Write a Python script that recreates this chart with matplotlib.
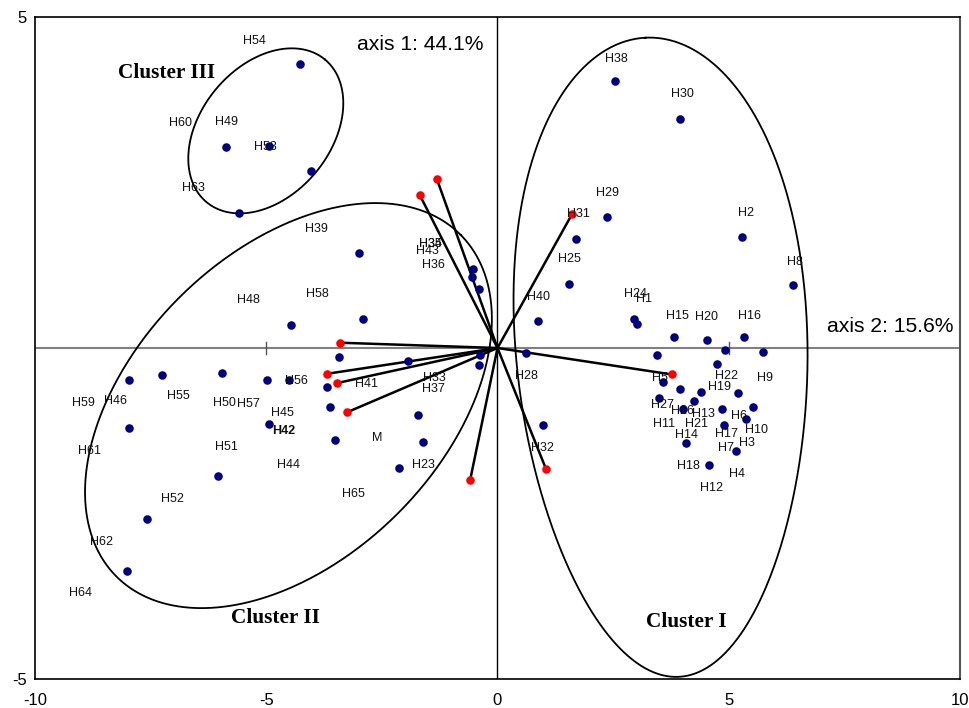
import numpy as np
import matplotlib
matplotlib.use("Agg")
import matplotlib.pyplot as plt

plt.rcParams['font.family'] = ['Liberation Sans', 'DejaVu Sans']
plt.rcParams['axes.unicode_minus'] = False

# ---- blue observation points (axis1, axis2) ----
blue_x = [-4.27, -5.87, -4.94, -4.03, -5.59,
          -2.99, -4.46, -2.91, -3.43, -7.97, -7.25, -5.96, -4.98, -4.51, -3.69, -1.93,
          -3.62, -4.94, -7.97, -3.51, -1.72, -1.61, -2.13, -6.04, -7.58, -8.01,
          -0.38, -0.40, -0.53, -0.55, -0.40, 0.62, 0.98,
          2.54, 3.95, 2.37, 1.70, 5.29, 6.39, 1.55, 0.88, 2.95, 3.02, 3.82, 4.53, 5.33,
          3.45, 4.92, 5.74, 4.75, 3.58, 3.95, 4.40, 5.20, 3.49, 4.25, 4.01, 4.85, 5.52,
          5.37, 4.90, 4.08, 5.16, 4.57]
blue_y = [4.29, 3.04, 3.05, 2.67, 2.04,
          1.44, 0.35, 0.44, -0.14, -0.48, -0.41, -0.38, -0.48, -0.48, -0.59, -0.20,
          -0.89, -1.15, -1.21, -1.39, -1.01, -1.42, -1.81, -1.93, -2.58, -3.37,
          -0.11, -0.26, 1.19, 1.07, 0.89, -0.08, -1.16,
          4.03, 3.46, 1.98, 1.65, 1.68, 0.95, 0.97, 0.41, 0.44, 0.36, 0.17, 0.12, 0.17,
          -0.11, -0.03, -0.06, -0.24, -0.51, -0.62, -0.66, -0.68, -0.76, -0.80, -0.92, -0.92, -0.89,
          -1.07, -1.17, -1.44, -1.56, -1.77]

# ---- red variable vectors ----
red_x = [-1.31, -1.68, 1.61, -3.41, -3.69, -3.47, -3.25, -0.59, 1.05, 3.77]
red_y = [2.55, 2.31, 2.02, 0.08, -0.39, -0.53, -0.97, -1.99, -1.83, -0.40]

# ---- point labels ----
lab_text = ["H54", "H60", "H49", "H53", "H63", "H39", "H34", "H35", "H43", "H36", "H58", "H48",
            "H56", "H41", "H33", "H37", "H45", "M", "H44", "H23", "H65", "H28", "H32",
            "H59", "H46", "H55", "H50", "H57", "H61", "H51", "H52", "H62", "H64",
            "H38", "H30", "H29", "H31", "H2", "H25", "H8", "H40", "H24", "H1", "H15", "H20", "H16",
            "H5", "H22", "H9", "H19", "H27", "H26", "H13", "H6", "H11", "H21", "H10", "H14",
            "H17", "H3", "H7", "H18", "H4", "H12"]
lab_x = [-5.26, -6.86, -5.85, -5.01, -6.58, -3.92, -1.46, -1.46, -1.52, -1.39, -3.90, -5.39,
         -4.34, -2.84, -1.37, -1.39, -4.64, -2.61, -4.51, -1.61, -3.12, 0.62, 0.98,
         -8.96, -8.25, -6.89, -5.91, -5.39, -8.83, -5.87, -7.02, -8.57, -9.01,
         2.58, 3.99, 2.37, 1.74, 5.37, 1.55, 6.43, 0.88, 2.99, 3.17, 3.88, 4.51, 5.44,
         3.51, 4.96, 5.78, 4.79, 3.56, 3.99, 4.46, 5.22, 3.60, 4.31, 5.59, 4.08,
         4.96, 5.39, 4.94, 4.12, 5.18, 4.62]
lab_y = [4.64, 3.40, 3.41, 3.04, 2.42, 1.80, 1.57, 1.57, 1.47, 1.25, 0.82, 0.73,
         -0.50, -0.54, -0.45, -0.62, -0.98, -1.36, -1.77, -1.77, -2.21, -0.42, -1.51,
         -0.83, -0.80, -0.73, -0.83, -0.85, -1.56, -1.50, -2.28, -2.93, -3.70,
         4.37, 3.84, 2.34, 2.02, 2.04, 1.34, 1.30, 0.77, 0.82, 0.74, 0.48, 0.47, 0.48,
         -0.45, -0.42, -0.45, -0.59, -0.86, -0.95, -1.00, -1.03, -1.15, -1.15, -1.24, -1.31,
         -1.30, -1.44, -1.51, -1.78, -1.90, -2.11]
bold_text = ["H42"]
bold_x = [-4.62]
bold_y = [-1.25]

# ---- cluster outlines: center (data), semi-axes (px), angle (deg), egg taper ----
clusters = ["Cluster III", "Cluster II", "Cluster I"]
cl_label_x = [-7.15, -4.81, 4.08]
cl_label_y = [4.15, -4.08, -4.14]
ell_cx = [-5.01, -4.52, 3.56]
ell_cy = [3.28, -0.87, -0.14]
ell_a = [92.7, 242.5, 320.0]
ell_b = [65.0, 153.6, 160.0]
ell_ang = [50.3, 44.7, 93.0]
ell_taper = [0.0, 0.0, 0.18]

W, H = 970, 708
fig = plt.figure(figsize=(W / 100, H / 100), dpi=100)
L, R, B, T = 35, 960, 679, 17
ax = fig.add_axes([L / W, 1 - B / H, (R - L) / W, (B - T) / H])
ax.set_xlim(-10, 10)
ax.set_ylim(-5, 5)
sx = (R - L) / 20.0
sy = (B - T) / 10.0

# axes through origin
ax.axhline(0, color='#808080', lw=1.5, zorder=1)
ax.axvline(0, color='black', lw=1.0, zorder=1)
for tx in [-5, 5]:
    ax.plot([tx, tx], [-6 / sy, 6 / sy], color='#555555', lw=1.0, zorder=1)

# cluster outlines
t = np.linspace(0, 2 * np.pi, 600)
for cx, cy, a, b, ang, k in zip(ell_cx, ell_cy, ell_a, ell_b, ell_ang, ell_taper):
    th = np.deg2rad(ang)
    u = a * np.cos(t)
    v = b * np.sin(t) * (1 - k * (1 - np.cos(t)) / 2)
    ex = cx + (u * np.cos(th) - v * np.sin(th)) / sx
    ey = cy + (u * np.sin(th) + v * np.cos(th)) / sy
    ax.plot(ex, ey, color='black', lw=1.3, zorder=2)

# vectors
for x, y in zip(red_x, red_y):
    ax.plot([0, x], [0, y], color='black', lw=1.8, zorder=3)

ax.scatter(blue_x, blue_y, s=38, color='#000080', zorder=4, linewidths=0)
ax.scatter(red_x, red_y, s=38, color='#FF0000', zorder=5, linewidths=0)

for s, x, y in zip(lab_text, lab_x, lab_y):
    ax.text(x, y, s, fontsize=9, ha='center', va='center', color='#111111', zorder=6)
for s, x, y in zip(bold_text, bold_x, bold_y):
    ax.text(x, y, s, fontsize=9, ha='center', va='center', color='#111111',
            fontweight='bold', zorder=6)

for s, x, y in zip(clusters, cl_label_x, cl_label_y):
    ax.text(x, y, s, fontsize=15.3, ha='center', va='center', fontweight='bold',
            family='Liberation Serif', zorder=6)

ax.text(-1.68, 4.59, "axis 1: 44.1%", fontsize=15.2, ha='center', va='center')
ax.text(8.49, 0.32, "axis 2: 15.6%", fontsize=15.2, ha='center', va='center')

ax.set_xticks([-10, -5, 0, 5, 10])
ax.set_yticks([-5, 5])
ax.tick_params(length=0, labelsize=12, pad=10)
ax.tick_params(axis='y', pad=6)
for side in ['left', 'top', 'bottom']:
    ax.spines[side].set_color('black')
    ax.spines[side].set_linewidth(1.2)
ax.spines['right'].set_color('#555555')
ax.spines['right'].set_linewidth(1.5)

fig.savefig("out.png", dpi=100)
